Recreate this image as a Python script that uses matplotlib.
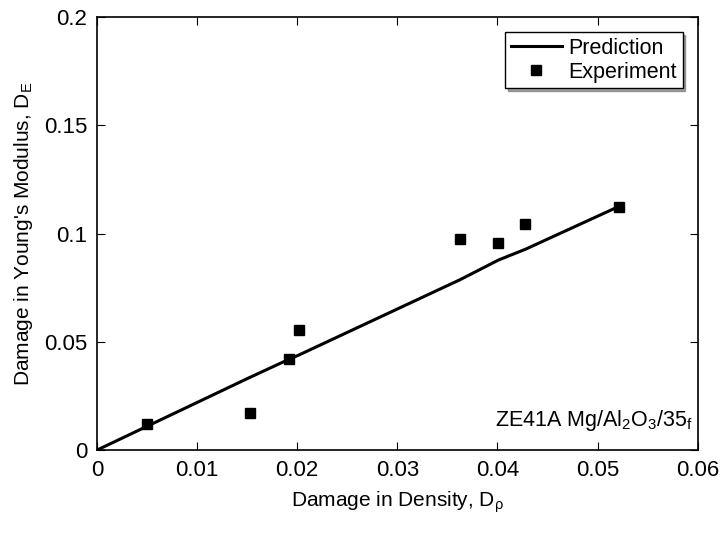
import matplotlib
matplotlib.use("Agg")
import matplotlib.pyplot as plt

plt.rcParams['font.family'] = ['Liberation Sans', 'DejaVu Sans']
plt.rcParams['mathtext.fontset'] = 'custom'
plt.rcParams['mathtext.rm'] = 'Liberation Sans'
plt.rcParams['mathtext.it'] = 'Liberation Sans'

# prediction curve
pred_x = [0, 0.005, 0.015, 0.0192, 0.0202, 0.0363, 0.0401, 0.0428, 0.0521]
pred_y = [0, 0.011, 0.033, 0.042, 0.044, 0.0788, 0.0878, 0.0928, 0.1125]

# experimental points
exp_x = [0.005, 0.0153, 0.0192, 0.0202, 0.0363, 0.0401, 0.0428, 0.0521]
exp_y = [0.012, 0.017, 0.042, 0.0556, 0.0975, 0.0956, 0.1045, 0.1125]

xticks = [0, 0.01, 0.02, 0.03, 0.04, 0.05, 0.06]
yticks = [0, 0.05, 0.1, 0.15, 0.2]

fig = plt.figure(figsize=(7.23, 5.53), dpi=100)
ax = fig.add_axes([0.134, 0.186, 0.831, 0.783])

ax.plot(pred_x, pred_y, color='black', lw=2.2, label='Prediction')
ax.plot(exp_x, exp_y, 's', color='black', ms=6.5, label='Experiment')

ax.set_xlim(0, 0.06)
ax.set_ylim(0, 0.2)
ax.set_xticks(xticks)
ax.set_xticklabels(['0', '0.01', '0.02', '0.03', '0.04', '0.05', '0.06'])
ax.set_yticks(yticks)
ax.set_yticklabels(['0', '0.05', '0.1', '0.15', '0.2'])
ax.tick_params(direction='in', top=True, right=True, labelsize=16, length=6, pad=7)
for s in ax.spines.values():
    s.set_linewidth(1.2)

ax.set_xlabel(r"Damage in Density, D$_\mathregular{ρ}$", fontsize=15, labelpad=6)
ax.set_ylabel(r"Damage in Young's Modulus, D$_\mathregular{E}$", fontsize=15, labelpad=6)

ax.text(0.0595, 0.008, r"ZE41A Mg/Al$_\mathregular{2}$O$_\mathregular{3}$/35$_\mathregular{f}$",
        fontsize=15.5, ha='right', va='bottom')

leg = ax.legend(loc='upper right', fontsize=15.5, fancybox=False, shadow=True,
                edgecolor='black', framealpha=1, handlelength=2.4,
                borderaxespad=0.7, handletextpad=0.3, borderpad=0.25, labelspacing=0.15)
leg.get_frame().set_linewidth(1.0)

fig.savefig('out.png', dpi=100)
